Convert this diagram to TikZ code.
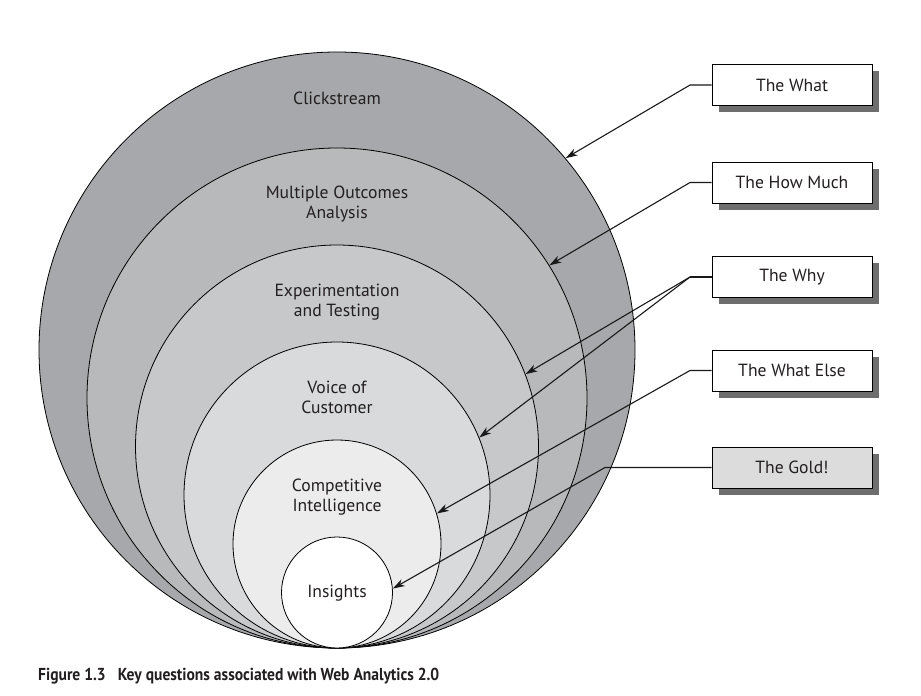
\documentclass[tikz,border=0pt]{standalone}
\usepackage{fontspec}
\setmainfont{PT Sans}
\newfontfamily\capfont[FakeStretch=0.9]{PT Sans Bold}
\usetikzlibrary{arrows.meta,shadows}
\definecolor{ringA}{HTML}{A7A8AB}
\definecolor{ringB}{HTML}{B8B9BB}
\definecolor{ringC}{HTML}{C7C8CA}
\definecolor{ringD}{HTML}{D9DADB}
\definecolor{ringE}{HTML}{ECECEC}
\definecolor{goldfill}{HTML}{DCDCDD}
\definecolor{shadowgray}{HTML}{6E6E6E}
\definecolor{txt}{HTML}{231F20}
\tikzset{
  ring/.style={circle, draw=black, line width=0.8pt, inner sep=0pt},
  lbl/.style={text=txt, font=\fontsize{17.6}{20}\selectfont, align=center, inner sep=0pt},
  qbox/.style={draw=black, line width=0.9pt, fill=white, minimum width=160pt, minimum height=41pt, inner sep=0pt,
    text=txt, font=\fontsize{17.6}{20}\selectfont,
    drop shadow={shadow xshift=6.5pt, shadow yshift=-6.5pt, fill=shadowgray, opacity=1}},
  conn/.style={draw=black!90, line width=1.1pt, -{Stealth[length=12pt,width=7.5pt,inset=3.5pt]}},
  plain/.style={draw=black!90, line width=1.1pt}
}
\begin{document}
\begin{tikzpicture}[x=1pt,y=-1pt]
\useasboundingbox (0,0) rectangle (921,696);
% rings
\node[ring, fill=ringA, minimum size=596pt] (c1) at (337,350) {};
\node[ring, fill=ringB, minimum size=500pt] (c2) at (337,398) {};
\node[ring, fill=ringC, minimum size=403pt] (c3) at (337,446.5) {};
\node[ring, fill=ringD, minimum size=306pt] (c4) at (337,495) {};
\node[ring, fill=ringE, minimum size=208pt] (c5) at (337,544) {};
\node[ring, fill=white, minimum size=111pt] (c6) at (337,592.5) {};
% ring labels
\node[lbl] (t1) at (337,98) {Clickstream};
\node[lbl] (t2) at (337,204) {Multiple Outcomes\\Analysis};
\node[lbl] (t3) at (337,302) {Experimentation\\and Testing};
\node[lbl] (t4) at (337,397) {Voice of\\Customer};
\node[lbl] (t5) at (337,497) {Competitive\\Intelligence};
\node[lbl] (t6) at (337,593) {Insights};
% question boxes
\node[qbox] (b1) at (792,85) {The What};
\node[qbox] (b2) at (792,182.5) {The How Much};
\node[qbox] (b3) at (792,277) {The Why};
\node[qbox] (b4) at (792,370.5) {The What Else};
\node[qbox, fill=goldfill] (b5) at (792,467.5) {The Gold!};
% connectors
\coordinate (k1) at (690,85);
\coordinate (k2) at (690,182.5);
\coordinate (k3) at (690,277);
\coordinate (k4) at (690,370.5);
\coordinate (k5) at (605,467.5);
\draw[conn] (b1.west) -- (k1) -- (c1.40.4);
\draw[conn] (b2.west) -- (k2) -- (c2.32.5);
\draw[plain] (b3.west) -- (k3);
\draw[conn] (k3) -- (c3.21.7);
\draw[conn] (k3) -- (c4.22.8);
\draw[conn] (b4.west) -- (k4) -- (c5.17.2);
\draw[conn] (b5.west) -- (k5) -- (c6.4.5);
% caption
\node[anchor=west, text=txt, font=\capfont\fontsize{17.3}{20}\selectfont, inner sep=0pt] (cap) at (38,676)
  {Figure 1.3\hspace{12pt}Key questions associated with Web Analytics 2.0};
\end{tikzpicture}
\end{document}
